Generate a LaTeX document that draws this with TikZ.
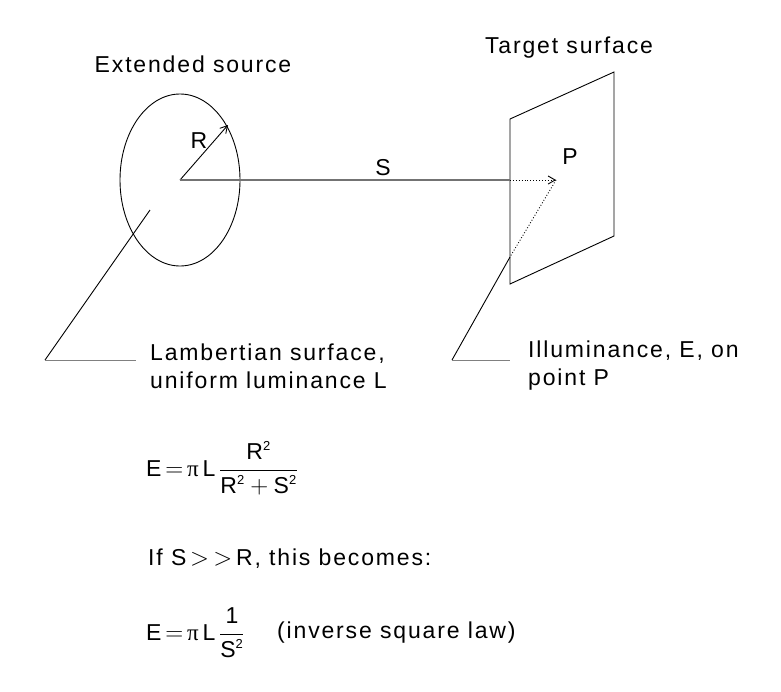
\documentclass[tikz,border=0pt]{standalone}
\usepackage{fontspec}
\setmainfont[LetterSpace=8]{Liberation Sans}
\newfontfamily\serifpi{Liberation Serif}
\usetikzlibrary{arrows.meta,shapes.geometric}
\newcommand{\supx}[1]{$^{\mbox{\fontsize{13}{13}\selectfont #1}}$}
\begin{document}
\begin{tikzpicture}[x=1pt,y=-1pt,
  lbl/.style={font=\fontsize{23}{28}\selectfont,inner sep=0pt},
  ln/.style={line width=0.9pt},
  arr/.style={-{Straight Barb[length=7pt,width=8pt]}}]
\useasboundingbox (0,0) rectangle (781,691);
% source
\node[draw,ln,ellipse,minimum width=120pt,minimum height=172pt,inner sep=0pt] (src) at (180,180) {};
\coordinate (c) at (180,180);
\coordinate (rt) at (228,125);
\draw[ln,arr] (c) -- (rt);
\node[lbl] (R) at (199,141) {R};
\node[lbl] (ext) at (193,64) {Extended source};
% target plane
\coordinate (tl) at (510,119);
\coordinate (tr) at (614,72);
\coordinate (br) at (614,236);
\coordinate (bl) at (510,284);
\draw[ln] (tl) -- (tr) -- (br) -- (bl) -- cycle;
\node[lbl] (tgt) at (569,48) {Target surface};
\coordinate (pp) at (556,180);
\coordinate (edge) at (510,180);
\draw[line width=1.2pt,gray!90!black] (c) -- (edge);
\draw[ln,dotted,arr] (edge) -- (pp);
\node[lbl] (S) at (383,168) {S};
\node[lbl] (P) at (570,157) {P};
\coordinate (pe) at (510,257);
\draw[ln,dotted] (pp) -- (pe);
% leaders
\coordinate (ls) at (150,210);
\coordinate (l1) at (45,360);
\coordinate (l2) at (136,360);
\draw[ln] (ls) -- (l1);
\draw[line width=0.6pt,gray] (l1) -- (l2);
\coordinate (r1) at (452,360);
\coordinate (r2) at (510,360);
\draw[ln] (pe) -- (r1);
\draw[line width=0.6pt,gray] (r1) -- (r2);
\node[lbl,anchor=west,align=left] (lamb) at (150,366) {Lambertian surface,\\uniform luminance L};
\node[lbl,anchor=west,align=left] (illum) at (528,366) {Illuminance, E, on\\point P};
% formulas
\node[lbl,anchor=west] (f1) at (146,468) {E\,$=$\,{\serifpi π}\,L\,$\displaystyle\frac{\mbox{R\supx{2}}}{\mbox{R\supx{2}}+\mbox{S\supx{2}}}$};
\node[lbl,anchor=west] (if) at (148,559) {If S\,$>\,>$\,R, this becomes:};
\node[lbl,anchor=west] (f2) at (146,633) {E\,$=$\,{\serifpi π}\,L\,$\displaystyle\frac{\mbox{1}}{\mbox{S\supx{2}}}$};
\node[lbl,anchor=west] (isl) at (277,633) {(inverse square law)};
\end{tikzpicture}
\end{document}
